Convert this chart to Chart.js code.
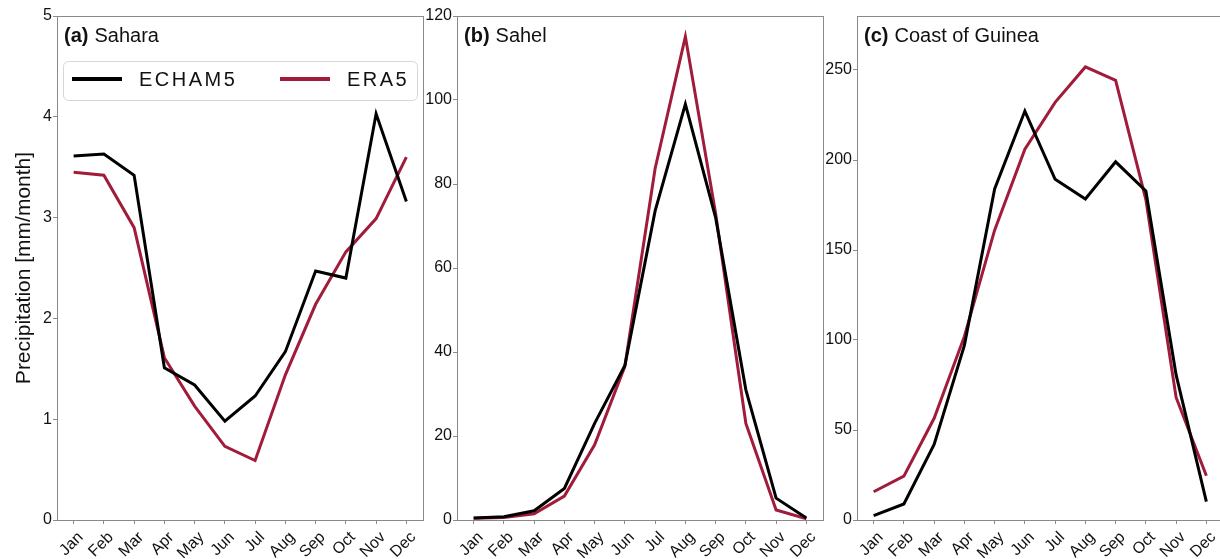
<!DOCTYPE html>
<html>
<head>
<meta charset="utf-8">
<script src="https://cdn.jsdelivr.net/npm/chart.js@4/dist/chart.umd.min.js"></script>
<style>
  html, body { margin: 0; padding: 0; background: #fff; overflow: hidden; width: 1220px; height: 559px; }
  .p { position: absolute; top: 0; }
</style>
</head>
<body>
<div class="p" style="left:0px;width:440px;height:559px"><canvas id="ca"></canvas></div>
<div class="p" style="left:423px;width:417px;height:559px"><canvas id="cb"></canvas></div>
<div class="p" style="left:823px;width:417px;height:559px"><canvas id="cc"></canvas></div>
<script>
const months = ['Jan','Feb','Mar','Apr','May','Jun','Jul','Aug','Sep','Oct','Nov','Dec'];
const seriesNames = ['ECHAM5', 'ERA5'];

const saharaECHAM5 = [3.61, 3.63, 3.42, 1.51, 1.34, 0.98, 1.23, 1.67, 2.47, 2.40, 4.03, 3.16];
const saharaERA5   = [3.45, 3.42, 2.90, 1.61, 1.13, 0.73, 0.59, 1.44, 2.14, 2.66, 2.99, 3.60];

const sahelECHAM5 = [0.5, 0.8, 2.2, 7.5, 23.0, 36.8, 73.6, 99.0, 72.0, 31.0, 5.2, 0.5];
const sahelERA5   = [0.4, 0.6, 1.5, 5.7, 17.9, 36.6, 83.7, 115.1, 73.0, 23.0, 2.4, 0.3];

const guineaECHAM5 = [2.4, 8.9, 42.0, 97.0, 183.9, 227.2, 189.3, 178.3, 199.0, 182.8, 80.6, 10.2];
const guineaERA5   = [15.7, 24.4, 56.5, 102.0, 161.0, 206.0, 232.0, 251.7, 244.3, 178.0, 68.1, 24.6];

const yTicksA = [0, 1, 2, 3, 4, 5];
const yTicksB = [0, 20, 40, 60, 80, 100, 120];
const yTicksC = [0, 50, 100, 150, 200, 250];

const panelTitles = [['(a)', 'Sahara'], ['(b)', 'Sahel'], ['(c)', 'Coast of Guinea']];
const yAxisTitle = 'Precipitation [mm/month]';

const COL_BLACK = '#000000';
const COL_RED = '#a01c3a';
const AXIS_COL = '#8a8a8a';
const FONT = "'Liberation Sans', Arial, sans-serif";

function toPts(arr) { return arr.map((v, i) => ({x: i, y: v})); }

const framePlugin = {
  id: 'frame',
  afterDraw(chart) {
    const a = chart.chartArea, ctx = chart.ctx;
    ctx.save();
    ctx.strokeStyle = AXIS_COL;
    ctx.lineWidth = 1;
    ctx.strokeRect(Math.round(a.left) + 0.5, Math.round(a.top) + 0.5, Math.round(a.right - a.left), Math.round(a.bottom - a.top));
    const t = chart.options.plugins.panelTitle;
    if (t) {
      ctx.fillStyle = '#111';
      ctx.textBaseline = 'alphabetic';
      ctx.textAlign = 'left';
      ctx.font = 'bold 20px ' + FONT;
      const x0 = a.left + 7, y0 = a.top + 26;
      ctx.fillText(t[0], x0, y0);
      const w = ctx.measureText(t[0]).width;
      ctx.font = '20px ' + FONT;
      ctx.fillText(t[1], x0 + w + 6, y0);
    }
    if (chart.options.plugins.innerLegend) {
      const bx = a.left + 6, by = a.top + 45, bw = 354, bh = 39;
      ctx.beginPath();
      ctx.strokeStyle = '#d6d6d6';
      ctx.lineWidth = 1;
      ctx.roundRect(bx + 0.5, by + 0.5, bw, bh, 5);
      ctx.fillStyle = 'rgba(255,255,255,0.85)';
      ctx.fill();
      ctx.stroke();
      const items = chart.data.datasets;
      const offs = [0, 208];
      items.forEach((ds, i) => {
        const lx = bx + 9 + offs[i];
        const ly = by + 18;
        ctx.beginPath();
        ctx.strokeStyle = ds.borderColor;
        ctx.lineWidth = 4;
        ctx.moveTo(lx, ly);
        ctx.lineTo(lx + 50, ly);
        ctx.stroke();
        ctx.fillStyle = '#111';
        ctx.font = '20px ' + FONT;
        ctx.letterSpacing = '2.5px';
        ctx.textBaseline = 'middle';
        ctx.fillText(ds.label, lx + 67, ly + 1);
        ctx.letterSpacing = '0px';
      });
    }
    ctx.restore();
  }
};

function makeChart(id, d1, d2, ymax, yticks, title, yAxisW, showYTitle, legend) {
  const ctx = document.getElementById(id);
  return new Chart(ctx, {
    type: 'line',
    data: {
      datasets: [
        { label: seriesNames[0], data: toPts(d1), borderColor: COL_BLACK, backgroundColor: COL_BLACK, borderWidth: 3, pointRadius: 0, tension: 0 },
        { label: seriesNames[1], data: toPts(d2), borderColor: COL_RED, backgroundColor: COL_RED, borderWidth: 3, pointRadius: 0, tension: 0 }
      ]
    },
    options: {
      responsive: true,
      maintainAspectRatio: false,
      animation: false,
      events: [],
      layout: { padding: { left: 0, right: 17, top: 16, bottom: 0 } },
      plugins: {
        legend: { display: false },
        tooltip: { enabled: false },
        panelTitle: title,
        innerLegend: legend
      },
      scales: {
        x: {
          type: 'linear',
          min: -0.55, max: 11.55,
          afterBuildTicks(scale) { scale.ticks = months.map((m, i) => ({value: i})); },
          afterFit(scale) { scale.height = 39; },
          ticks: {
            autoSkip: false,
            maxRotation: 45, minRotation: 45,
            padding: 4,
            labelOffset: 7,
            color: '#111',
            font: { family: FONT, size: 16 },
            callback: (v) => months[v]
          },
          grid: { display: true, drawOnChartArea: false, drawTicks: true, tickLength: 4, color: AXIS_COL },
          border: { display: true, color: AXIS_COL }
        },
        y: {
          type: 'linear',
          min: 0, max: ymax,
          afterBuildTicks(scale) { scale.ticks = yticks.map(v => ({value: v})); },
          afterFit(scale) { scale.width = yAxisW; },
          ticks: {
            padding: 1,
            color: '#111',
            font: { family: FONT, size: 16 },
            callback: (v) => String(v)
          },
          grid: { display: true, drawOnChartArea: false, drawTicks: true, tickLength: 4, color: AXIS_COL },
          border: { display: true, color: AXIS_COL },
          title: {
            display: showYTitle,
            text: yAxisTitle,
            color: '#111',
            font: { family: FONT, size: 21 },
            padding: { top: 12, bottom: 0 }
          }
        }
      }
    },
    plugins: [framePlugin]
  });
}

makeChart('ca', saharaECHAM5, saharaERA5, 5, yTicksA, panelTitles[0], 57, true, true);
makeChart('cb', sahelECHAM5, sahelERA5, 120, yTicksB, panelTitles[1], 34, false, false);
makeChart('cc', guineaECHAM5, guineaERA5, 280, yTicksC, panelTitles[2], 34, false, false);
</script>
</body>
</html>
